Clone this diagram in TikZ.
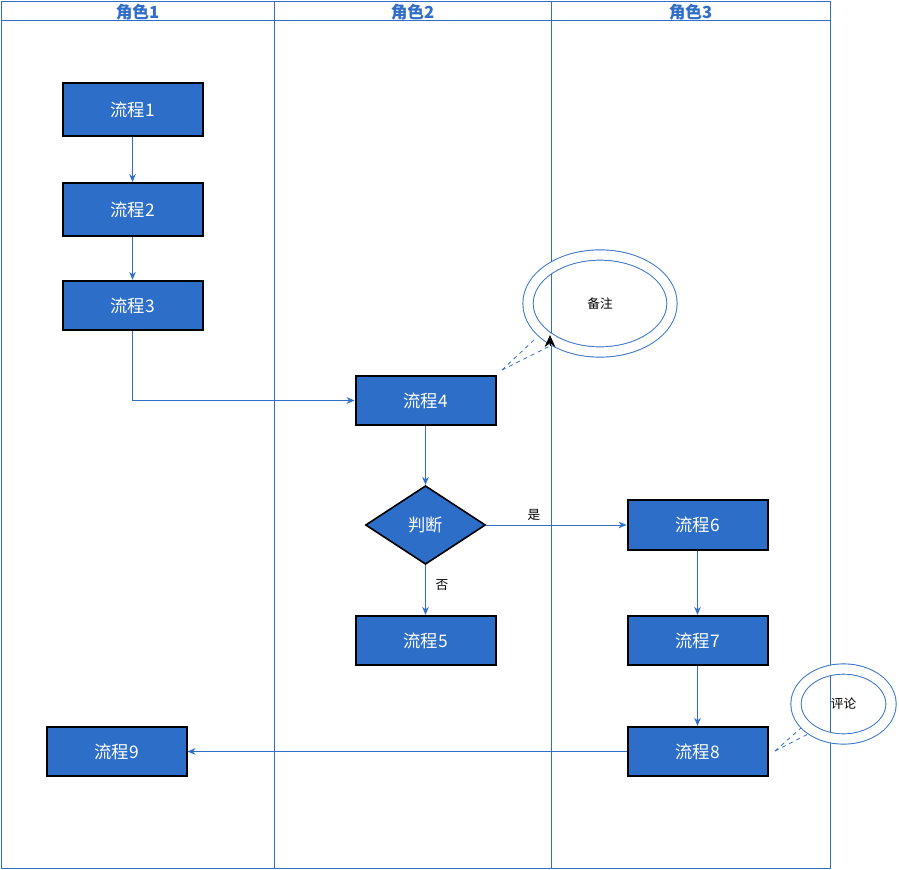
\documentclass[tikz,border=0pt]{standalone}
\usepackage{fontspec}
\setmainfont{Noto Sans CJK SC}
\usepackage{tikz}
\usetikzlibrary{arrows.meta,shapes.geometric}

\definecolor{laneblue}{RGB}{48,110,200}
\definecolor{boxblue}{RGB}{45,110,200}

\begin{document}
\begin{tikzpicture}[x=0.75pt,y=-0.75pt,
  proc/.style={rectangle,draw=black,line width=1.5pt,fill=boxblue,text=white,
    minimum width=105pt,minimum height=37pt,inner sep=0pt,font=\fontsize{13}{15}\selectfont},
  decide/.style={diamond,draw=black,line width=1.2pt,fill=boxblue,text=white,
    minimum width=90pt,minimum height=59pt,inner sep=0pt,font=\fontsize{13}{15}\selectfont},
  memo/.style={ellipse,draw=laneblue,double=white,double distance=7pt,line width=0.7pt,
    inner sep=0pt,font=\fontsize{9.5}{11}\selectfont},
  flow/.style={draw=laneblue,line width=0.7pt,-{Stealth[length=6pt,width=5pt]}},
  callout/.style={draw=laneblue,dashed,line width=0.6pt},
  lanetitle/.style={text=laneblue,font=\bfseries\fontsize{12.5}{14}\selectfont},
  small/.style={font=\fontsize{9.5}{11}\selectfont}]

\useasboundingbox (0,0) rectangle (899,870);

% pool and lanes
\draw[laneblue,line width=0.75pt] (1,2) rectangle (830,868);
\draw[laneblue,line width=0.75pt] (1,21) -- (830,21);
\draw[laneblue,line width=0.75pt] (274,2) -- (274,868);
\draw[laneblue,line width=0.75pt] (551,2) -- (551,868);

\node[lanetitle] (role1) at (137.5,12) {角色1};
\node[lanetitle] (role2) at (412.5,12) {角色2};
\node[lanetitle] (role3) at (690.5,12) {角色3};

% steps
\node[proc,minimum height=39.75pt] (p1) at (132.5,109.5) {流程1};
\node[proc,minimum height=39.75pt] (p2) at (132.5,209.5) {流程2};
\node[proc] (p3) at (132.5,305.5) {流程3};
\node[proc] (p4) at (425.5,400.5) {流程4};
\node[decide] (dec) at (425.5,525) {判断};
\node[proc] (p5) at (425.5,640.5) {流程5};
\node[proc] (p6) at (697.5,525) {流程6};
\node[proc] (p7) at (697.5,640.5) {流程7};
\node[proc] (p8) at (697.5,751.5) {流程8};
\node[proc] (p9) at (116.5,751.5) {流程9};

% notes
\node[memo,minimum width=108pt,minimum height=72.75pt] (note) at (600,303.5) {备注};
\node[memo,minimum width=71.25pt,minimum height=52.5pt] (comment) at (843.5,704) {评论};

\coordinate (notetail) at (502,370);
\coordinate (notea) at (535,339);
\coordinate (noteb) at (550,346);
\coordinate (notetip) at (550,335);
\coordinate (comtail) at (775,751);
\coordinate (coma) at (801,728);
\coordinate (comb) at (810,733);

\draw[callout] (notetail) -- (notea);
\draw[callout] (notetail) -- (noteb);
\draw[callout] (comtail) -- (coma);
\draw[callout] (comtail) -- (comb);
\draw[-{Stealth[length=9pt,width=8pt]},black,line width=0.5pt] (noteb) -- (notetip);

% connectors
\draw[flow] (p1) -- (p2);
\draw[flow] (p2) -- (p3);
\draw[flow] (p3.south) |- (p4.west);
\draw[flow] (p4) -- (dec);
\draw[flow] (dec.east) -- node[small,pos=0.34,above,text=black] (yes) {是} (p6.west);
\draw[flow] (dec.south) -- node[small,pos=0.4,right=4pt,text=black] (no) {否} (p5.north);
\draw[flow] (p6) -- (p7);
\draw[flow] (p7) -- (p8);
\draw[flow] (p8) -- (p9);

\end{tikzpicture}
\end{document}
